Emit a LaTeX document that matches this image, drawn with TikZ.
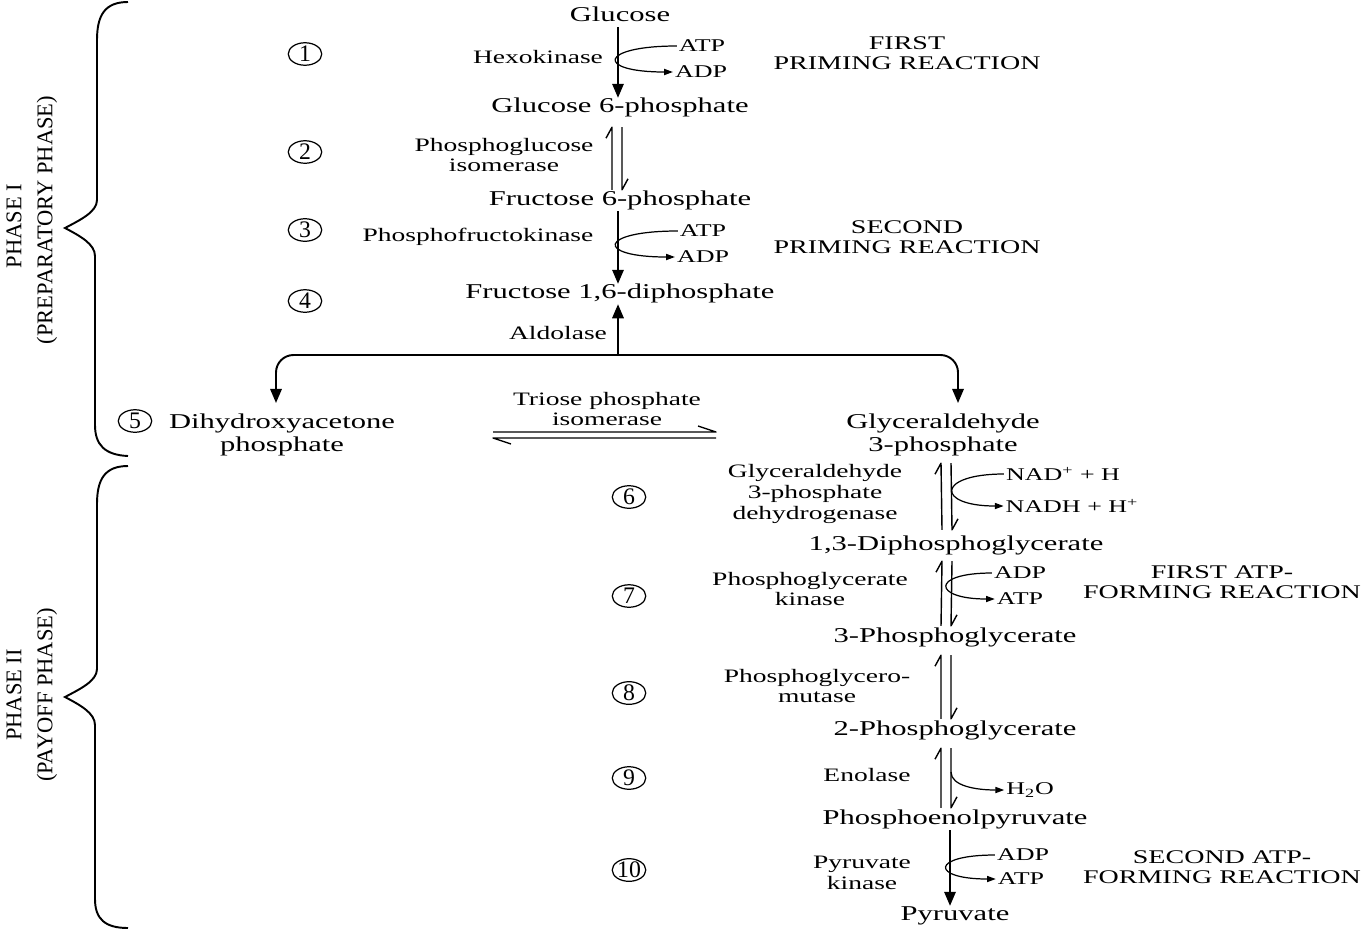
\documentclass[tikz,border=0pt]{standalone}
\usepackage{fontspec}
\setmainfont{Liberation Serif}[FakeStretch=1.45]
\newfontfamily\plainserif{Liberation Serif}
\usetikzlibrary{arrows.meta,shapes.geometric}
\begin{document}
\begin{tikzpicture}[x=0.02cm,y=-0.02cm,
  main/.style={font=\fontsize{12}{13.1}\selectfont, align=center, inner sep=1pt, text height=0.7em, text depth=0.22em},
  maintwo/.style={font=\fontsize{12}{13.1}\selectfont, align=center, inner sep=1pt},
  enz/.style={font=\fontsize{10.8}{11.9}\selectfont, align=center, inner sep=1pt},
  cofac/.style={font=\fontsize{10.2}{11}\selectfont, inner sep=1pt},
  note/.style={font=\fontsize{11}{11.4}\selectfont, align=center, inner sep=1pt},
  num/.style={ellipse, draw, line width=0.7pt, minimum width=0.67cm, minimum height=0.45cm, inner sep=0pt, font=\plainserif\fontsize{13.5}{14}\selectfont},
  phase/.style={rotate=90, font=\plainserif\fontsize{12.8}{14}\selectfont, inner sep=0pt},
  mainarr/.style={line width=1.1pt, -{Triangle[length=8pt,width=6.5pt]}},
  eqline/.style={line width=0.8pt, line join=round},
  cofarr/.style={line width=0.7pt, -{Triangle[length=5pt,width=3.5pt]}},
  brace/.style={line width=1.1pt}
]
\useasboundingbox (0,0) rectangle (1361,930);

% phase labels and braces
\node[phase] (ph1a) at (14,226) {PHASE I};
\node[phase] (ph1b) at (47,220) {(PREPARATORY PHASE)};
\node[phase] (ph2a) at (14,695) {PHASE II};
\node[phase] (ph2b) at (47,695) {(PAYOFF PHASE)};
\draw[brace] (128,2) .. controls (105,2) and (97,15) .. (97,40) -- (97,200)
  .. controls (97,212) and (80,220) .. (65,228) .. controls (80,236) and (95,244) .. (95,256)
  -- (95,425) .. controls (95,445) and (105,455) .. (128,456);
\draw[brace] (128,466) .. controls (105,466) and (97,479) .. (97,504) -- (97,669)
  .. controls (97,681) and (80,689) .. (65,697) .. controls (80,705) and (95,713) .. (95,725)
  -- (95,899) .. controls (95,919) and (105,928) .. (128,928);

% step numbers
\node[num] (c1) at (305,54) {1};
\node[num] (c2) at (305,152) {2};
\node[num] (c3) at (305,230) {3};
\node[num] (c4) at (305,301) {4};
\node[num] (c5) at (135,421) {5};
\node[num] (c6) at (629,497) {6};
\node[num] (c7) at (629,596) {7};
\node[num] (c8) at (629,693) {8};
\node[num] (c9) at (629,778) {9};
\node[num] (c10) at (629,870) {10};

% metabolites
\node[main] (glc) at (620,17) {Glucose};
\node[main] (g6p) at (620,108) {Glucose 6-phosphate};
\node[main] (f6p) at (620,201) {Fructose 6-phosphate};
\node[main] (f16) at (620,294) {Fructose 1,6-diphosphate};
\node[maintwo] (dhap) at (282,435) {Dihydroxyacetone\\phosphate};
\node[maintwo] (g3p) at (943,435) {Glyceraldehyde\\3-phosphate};
\node[main] (bpg) at (956,546) {1,3-Diphosphoglycerate};
\node[main] (pg3) at (955,638) {3-Phosphoglycerate};
\node[main] (pg2) at (955,731) {2-Phosphoglycerate};
\node[main] (pep) at (955,820) {Phosphoenolpyruvate};
\node[main] (pyr) at (955,916) {Pyruvate};

% enzymes
\node[enz] (hk) at (538,57) {Hexokinase};
\node[enz] (pgi) at (504,155) {Phosphoglucose\\isomerase};
\node[enz] (pfk) at (478,237) {Phosphofructokinase};
\node[enz] (ald) at (558,333) {Aldolase};
\node[enz] (tpi) at (607,409) {Triose phosphate\\isomerase};
\node[enz] (gapdh) at (815,494) {Glyceraldehyde\\3-phosphate\\dehydrogenase};
\node[enz] (pgk) at (810,589) {Phosphoglycerate\\kinase};
\node[enz] (pgm) at (817,686) {Phosphoglycero-\\mutase};
\node[enz] (eno) at (867,775) {Enolase};
\node[enz] (pk) at (862,873) {Pyruvate\\kinase};

% cofactors
\node[cofac] (atp1) at (702,46) {ATP};
\node[cofac] (adp1) at (701,72) {ADP};
\node[cofac] (atp3) at (703,231) {ATP};
\node[cofac] (adp3) at (703,257) {ADP};
\node[cofac] (nad) at (1063,474) {NAD\textsuperscript{+} + H};
\node[cofac] (nadh) at (1072,506) {NADH + H\textsuperscript{+}};
\node[cofac] (adp7) at (1020,573) {ADP};
\node[cofac] (atp7) at (1020,599) {ATP};
\node[cofac] (h2o) at (1030,790) {H\textsubscript{2}O};
\node[cofac] (adp10) at (1023,855) {ADP};
\node[cofac] (atp10) at (1021,879) {ATP};

% notes
\node[note] (n1) at (907,53) {FIRST\\PRIMING REACTION};
\node[note] (n3) at (907,237) {SECOND\\PRIMING REACTION};
\node[note] (n7) at (1222,582) {FIRST ATP-\\FORMING REACTION};
\node[note] (n10) at (1222,867) {SECOND ATP-\\FORMING REACTION};

% reactions, preparatory phase
\draw[mainarr] ([xshift=-0.04cm]glc.south) -- ([xshift=-0.04cm]g6p.north);
\draw[cofarr] (atp1.west) .. controls +(-78,0) and +(-78,0) .. (adp1.west);
\draw[eqline] ([xshift=-0.16cm,yshift=0.02cm]f6p.north) -- ([xshift=-0.16cm,yshift=-0.18cm]g6p.south) -- ++(-6,11);
\draw[eqline] ([xshift=0.04cm,yshift=-0.18cm]g6p.south) -- ([xshift=0.04cm,yshift=0.02cm]f6p.north) -- ++(6,-11);
\draw[mainarr] ([xshift=-0.04cm]f6p.south) -- ([xshift=-0.04cm]f16.north);
\draw[cofarr] (atp3.west) .. controls +(-80,0) and +(-80,0) .. (adp3.west);

\coordinate (split) at (618,355);
\coordinate (dl) at (276,403);
\coordinate (dr) at (958,403);
\draw[mainarr] (split) -- ([xshift=-0.04cm]f16.south);
\draw[mainarr, rounded corners=0.35cm] (split) -| (dl);
\draw[mainarr, rounded corners=0.35cm] (split) -| (dr);

\coordinate (t1) at (493,432);
\coordinate (t2) at (716,432);
\coordinate (t3) at (716,438);
\coordinate (t4) at (493,438);
\draw[eqline] (t1) -- (t2) -- ++(-18,-6);
\draw[eqline] (t3) -- (t4) -- ++(18,6);

% payoff phase
\draw[eqline] ([xshift=-0.28cm,yshift=0.12cm]bpg.north) -- ([xshift=-0.04cm,yshift=-0.1cm]g3p.south) -- ++(-6,11);
\draw[eqline] ([xshift=0.16cm,yshift=-0.1cm]g3p.south) -- ([xshift=-0.08cm,yshift=0.12cm]bpg.north) -- ++(6,-11);
\draw[cofarr] (nad.west) .. controls +(-68,0) and +(-68,0) .. (nadh.west);

\draw[eqline] ([xshift=-0.28cm,yshift=0.04cm]pg3.north) -- ([xshift=-0.28cm,yshift=-0.1cm]bpg.south) -- ++(-6,11);
\draw[eqline] ([xshift=-0.08cm,yshift=-0.1cm]bpg.south) -- ([xshift=-0.08cm,yshift=0.04cm]pg3.north) -- ++(6,-11);
\draw[cofarr] (adp7.west) .. controls +(-62,0) and +(-62,0) .. (atp7.west);

\draw[eqline] ([xshift=-0.28cm,yshift=0.04cm]pg2.north) -- ([xshift=-0.28cm,yshift=-0.14cm]pg3.south) -- ++(-6,11);
\draw[eqline] ([xshift=-0.08cm,yshift=-0.14cm]pg3.south) -- ([xshift=-0.08cm,yshift=0.04cm]pg2.north) -- ++(6,-11);

\draw[eqline] ([xshift=-0.28cm,yshift=0.04cm]pep.north) -- ([xshift=-0.28cm,yshift=-0.14cm]pg2.south) -- ++(-6,11);
\draw[eqline] ([xshift=-0.08cm,yshift=-0.14cm]pg2.south) -- ([xshift=-0.08cm,yshift=0.04cm]pep.north) -- ++(6,-11);
\coordinate (hs) at (951,772);
\draw[cofarr] (hs) .. controls +(0,14) and +(-28,0) .. (h2o.west);

\draw[mainarr] ([xshift=-0.1cm]pep.south) -- ([xshift=-0.1cm]pyr.north);
\draw[cofarr] (adp10.west) .. controls +(-65,0) and +(-65,0) .. (atp10.west);
\end{tikzpicture}
\end{document}
